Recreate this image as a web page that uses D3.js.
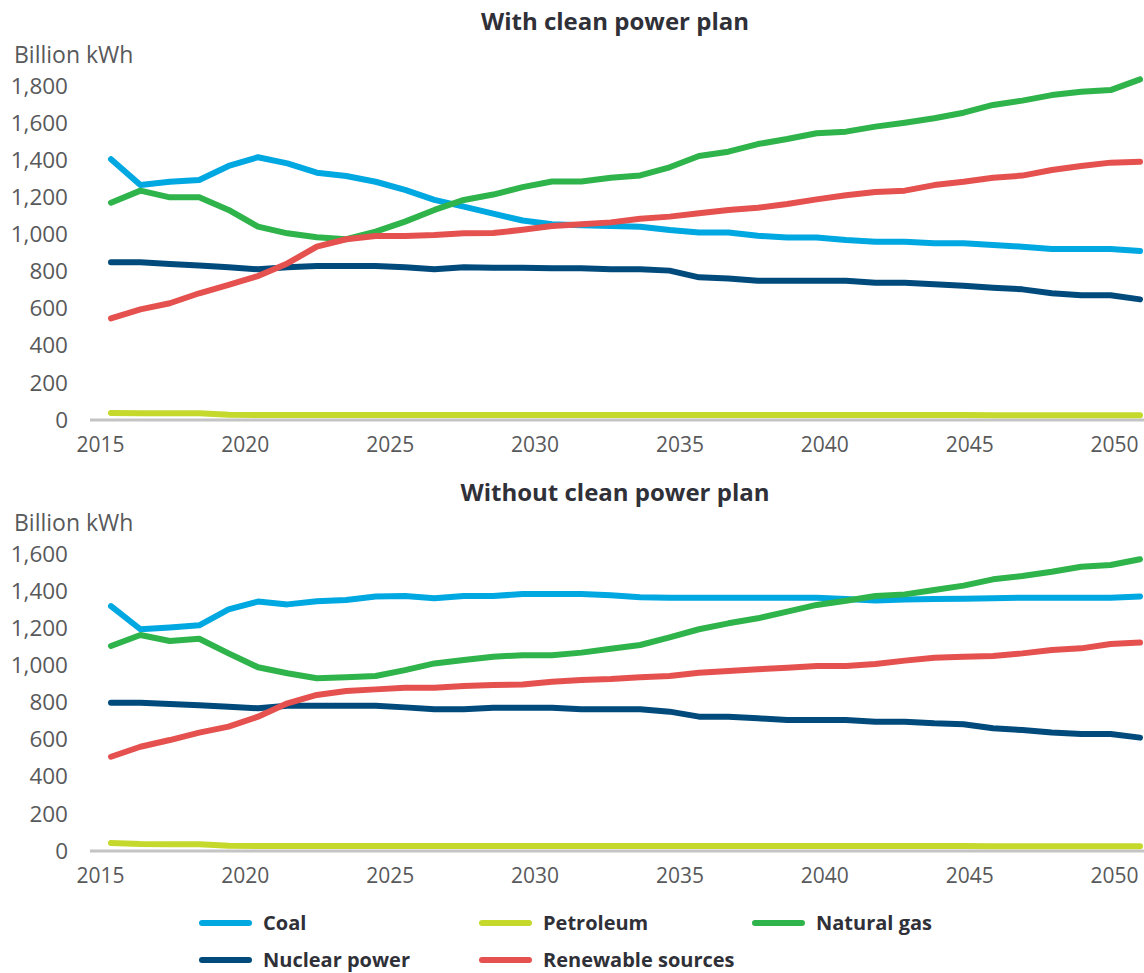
<!DOCTYPE html>
<html>
<head>
<meta charset="utf-8">
<script src="https://cdn.jsdelivr.net/npm/d3@7"></script>
<style>
  body { margin: 0; background: #fff; }
  text { font-family: "Open Sans", sans-serif; }
</style>
</head>
<body>
<svg id="chart" width="1144" height="973"></svg>
<script>
// years on the x axis (one point per year)
var years = [2015, 2016, 2017, 2018, 2019, 2020, 2021, 2022, 2023, 2024, 2025, 2026,
  2027, 2028, 2029, 2030, 2031, 2032, 2033, 2034, 2035, 2036, 2037, 2038,
  2039, 2040, 2041, 2042, 2043, 2044, 2045, 2046, 2047, 2048, 2049, 2050];
var yearTicks = [2015, 2020, 2025, 2030, 2035, 2040, 2045, 2050];

var seriesNames = ["Coal", "Petroleum", "Natural gas", "Nuclear power", "Renewable sources"];
var seriesColors = ["#00a8e1", "#c5d92d", "#2fb34b", "#004b7c", "#e5514f"];

// With clean power plan (billion kWh)
var withCoal = [1405, 1266, 1284, 1293, 1369, 1416, 1383, 1333, 1315, 1284, 1240, 1186,
  1150, 1112, 1075, 1055, 1050, 1045, 1042, 1024, 1011, 1011, 993, 983,
  983, 970, 961, 961, 952, 952, 943, 934, 922, 922, 922, 911];
var withPetroleum = [38, 37, 37, 36, 28, 27, 27, 27, 27, 27, 27, 27,
  27, 27, 27, 27, 27, 27, 27, 27, 27, 27, 27, 27,
  27, 27, 27, 27, 27, 27, 26, 26, 26, 26, 26, 26];
var withGas = [1171, 1236, 1200, 1200, 1132, 1042, 1006, 985, 974, 1015, 1069, 1132,
  1186, 1215, 1255, 1285, 1285, 1305, 1318, 1362, 1423, 1446, 1487, 1514,
  1545, 1554, 1581, 1602, 1626, 1656, 1698, 1721, 1751, 1769, 1778, 1836];
var withNuclear = [850, 850, 841, 832, 823, 812, 823, 830, 830, 830, 823, 812,
  823, 820, 820, 818, 818, 812, 812, 805, 769, 762, 751, 751,
  751, 751, 740, 740, 731, 724, 713, 704, 683, 672, 672, 650];
var withRenewable = [548, 596, 629, 683, 728, 776, 844, 934, 974, 992, 992, 997,
  1006, 1008, 1025, 1045, 1055, 1065, 1085, 1096, 1114, 1132, 1144, 1164,
  1189, 1211, 1229, 1236, 1266, 1284, 1306, 1317, 1347, 1369, 1387, 1392];

// Without clean power plan (billion kWh)
var withoutCoal = [1320, 1195, 1205, 1216, 1302, 1344, 1329, 1346, 1353, 1371, 1374, 1362,
  1374, 1374, 1385, 1385, 1385, 1378, 1368, 1365, 1365, 1365, 1365, 1365,
  1365, 1358, 1350, 1355, 1358, 1360, 1362, 1365, 1365, 1365, 1365, 1372];
var withoutPetroleum = [43, 38, 37, 37, 28, 27, 27, 27, 27, 27, 27, 27,
  27, 27, 27, 27, 27, 27, 27, 27, 27, 27, 27, 27,
  27, 27, 27, 27, 27, 27, 26, 26, 26, 26, 26, 26];
var withoutGas = [1105, 1164, 1132, 1144, 1065, 990, 958, 931, 936, 943, 975, 1011,
  1029, 1047, 1055, 1055, 1069, 1090, 1110, 1151, 1195, 1227, 1254, 1290,
  1326, 1349, 1374, 1383, 1407, 1430, 1464, 1482, 1505, 1532, 1541, 1572];
var withoutNuclear = [799, 799, 792, 785, 778, 769, 783, 783, 783, 783, 774, 764,
  764, 772, 772, 772, 764, 764, 764, 751, 724, 724, 715, 706,
  706, 706, 697, 697, 688, 683, 661, 652, 638, 630, 630, 611];
var withoutRenewable = [508, 562, 598, 638, 670, 724, 796, 841, 862, 871, 880, 880,
  889, 895, 897, 912, 922, 927, 936, 943, 961, 970, 979, 988,
  997, 997, 1008, 1026, 1042, 1047, 1051, 1065, 1083, 1092, 1116, 1123];

var withTicks = [0, 200, 400, 600, 800, 1000, 1200, 1400, 1600, 1800];
var withoutTicks = [0, 200, 400, 600, 800, 1000, 1200, 1400, 1600];

var svg = d3.select("#chart");
var pxPerUnit = 0.18556;

// points sit a little right of the labels, as in the source
var x = d3.scaleLinear().domain([2015, 2050]).range([111, 1140]);
var xLabel = d3.scaleLinear().domain([2015, 2050]).range([100, 1114]);

function drawPanel(title, titleY, unitY, baseY, ticks, series) {
  var yMax = ticks[ticks.length - 1];
  var y = d3.scaleLinear().domain([0, yMax]).range([baseY, baseY - yMax * pxPerUnit]);
  var g = svg.append("g");

  g.append("text")
    .attr("x", 615).attr("y", titleY)
    .attr("text-anchor", "middle")
    .attr("font-size", 24).attr("font-weight", 700)
    .attr("fill", "#2f3038")
    .text(title);

  g.append("text")
    .attr("x", 14).attr("y", unitY)
    .attr("font-size", 23).attr("fill", "#58595b")
    .text("Billion kWh");

  var yAxis = g.append("g")
    .attr("transform", "translate(71,0)")
    .call(d3.axisLeft(y).tickValues(ticks).tickFormat(d3.format(",")).tickSize(0).tickPadding(3));
  yAxis.select(".domain").remove();
  yAxis.selectAll("text")
    .attr("font-size", 22.5).attr("fill", "#58595b")
    .attr("font-family", "Open Sans, sans-serif");

  var xAxis = g.append("g")
    .attr("transform", "translate(0," + baseY + ")")
    .call(d3.axisBottom(xLabel).tickValues(yearTicks).tickFormat(d3.format("d")).tickSize(0).tickPadding(17));
  xAxis.select(".domain").remove();
  xAxis.selectAll("text")
    .attr("font-size", 21).attr("fill", "#58595b")
    .attr("font-family", "Open Sans, sans-serif");

  // baseline
  g.append("line")
    .attr("x1", 90).attr("x2", 1144)
    .attr("y1", y(0)).attr("y2", y(0))
    .style("stroke", "#c4c4c4")
    .style("stroke-width", 3);

  var line = d3.line()
    .x(function(d, i){ return x(years[i]); })
    .y(function(d){ return y(d); });

  g.selectAll("path.series")
    .data(series)
    .enter().append("path")
      .attr("class", "series")
      .attr("d", function(d){ return line(d); })
      .style("fill", "none")
      .style("stroke", function(d, i){ return seriesColors[i]; })
      .style("stroke-width", 6)
      .style("stroke-linecap", "round")
      .style("stroke-linejoin", "round");
}

drawPanel("With clean power plan", 30, 63, 420, withTicks,
  [withCoal, withPetroleum, withGas, withNuclear, withRenewable]);
drawPanel("Without clean power plan", 501, 531, 851, withoutTicks,
  [withoutCoal, withoutPetroleum, withoutGas, withoutNuclear, withoutRenewable]);

// legend, three per row
var legendX = [202, 482, 755];
var legendY = [923, 960];
var legend = svg.append("g").selectAll("g")
  .data(seriesNames)
  .enter().append("g")
    .attr("transform", function(d, i){
      return "translate(" + legendX[i % 3] + "," + legendY[Math.floor(i / 3)] + ")";
    });
legend.append("line")
  .attr("x1", 0).attr("x2", 47)
  .style("stroke", function(d, i){ return seriesColors[i]; })
  .style("stroke-width", 6)
  .style("stroke-linecap", "round");
legend.append("text")
  .attr("x", 61).attr("dy", "0.36em")
  .attr("font-size", 20).attr("font-weight", 700)
  .attr("fill", "#2f3038")
  .text(function(d){ return d; });
</script>
</body>
</html>
